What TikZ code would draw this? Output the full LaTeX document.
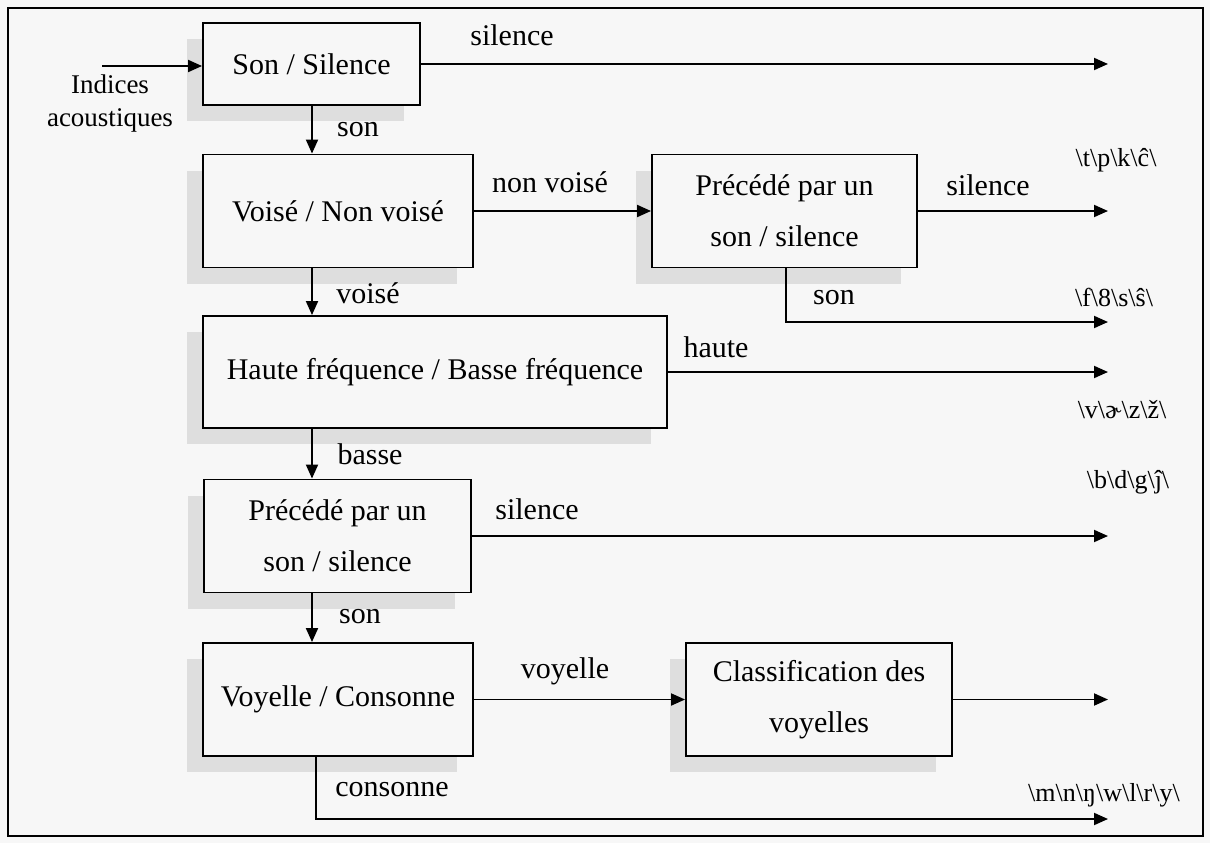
\documentclass[tikz,border=0pt]{standalone}
\usepackage{fontspec}
\setmainfont{Liberation Serif}
\usetikzlibrary{arrows.meta,shadows}

\colorlet{fond}{black!3}

\begin{document}
\begin{tikzpicture}[x=1pt,y=-1pt,
    bloc/.style={draw,line width=1.9pt,fill=fond,minimum height=113pt,align=center,
      font=\fontsize{30}{51}\selectfont,
      drop shadow={shadow xshift=-16pt,shadow yshift=-16pt,fill=black!13,opacity=1}},
    lab/.style={font=\fontsize{30}{34}\selectfont,inner sep=0pt},
    phon/.style={font=\fontsize{26}{30}\selectfont,inner sep=0pt},
    fl/.style={line width=1.9pt,-{Triangle[length=14pt,width=12pt]}}]
                % fond et cadre
                \fill[fond] (0,0) rectangle (1210,843);
                \draw[line width=1.6pt] (8,8) rectangle (1203,836);
                % blocs
                \node[bloc,minimum width=217pt,minimum height=82pt] (sonsil) at (311.5,64) {Son / Silence};
                \node[bloc,minimum width=270pt] (voise) at (338,211) {Voisé / Non voisé};
                \node[bloc,minimum width=265pt] (precA) at (784.5,211) {Précédé par un\\son / silence};
                \node[bloc,minimum width=464pt,minimum height=112pt] (freq) at (435,372) {Haute fréquence / Basse fréquence};
                \node[bloc,minimum width=267pt] (precB) at (337.5,536) {Précédé par un\\son / silence};
                \node[bloc,minimum width=270pt] (voycons) at (338,699.5) {Voyelle / Consonne};
                \node[bloc,minimum width=266pt] (classif) at (819,699.5) {Classification des\\voyelles};
                % reperes
                \coordinate (entree) at (102,66);
                \coordinate (fin) at (1108,0);
                \coordinate (axe) at (312,0);
                \coordinate (coinA) at (786,322);
                \coordinate (coinB) at (316,819);
                % fleches
                \draw[fl] (entree) -- (entree -| sonsil.west);
                \draw[fl] (sonsil.east) -- (sonsil.east -| fin);
                \draw[fl] (sonsil.south -| axe) -- (voise.north -| axe);
                \draw[fl] (voise.east) -- (precA.west);
                \draw[fl] (precA.east) -- (precA.east -| fin);
                \draw[fl] (precA.south -| coinA) -- (coinA) -- (coinA -| fin);
                \draw[fl] (voise.south -| axe) -- (freq.north -| axe);
                \draw[fl] (freq.east) -- (freq.east -| fin);
                \draw[fl] (freq.south -| axe) -- (precB.north -| axe);
                \draw[fl] (precB.east) -- (precB.east -| fin);
                \draw[fl] (precB.south -| axe) -- (voycons.north -| axe);
                \draw[fl] (voycons.east) -- (classif.west);
                \draw[fl] (classif.east) -- (classif.east -| fin);
                \draw[fl] (voycons.south -| coinB) -- (coinB) -- (coinB -| fin);
                % etiquettes
                \node[align=center,inner sep=0pt,font=\fontsize{27}{33}\selectfont] (indices) at (110,104) {Indices\\acoustiques};
                \node[lab] (lsil1) at (512,35) {silence};
                \node[lab] (lson1) at (358,130) {son};
                \node[lab] (lnv) at (550,182) {non voisé};
                \node[lab] (lsil2) at (988,185) {silence};
                \node[lab] (lson2) at (834,298) {son};
                \node[lab] (lvoi) at (368,293) {voisé};
                \node[lab] (lhaut) at (716,347) {haute};
                \node[lab] (lbas) at (370,454) {basse};
                \node[lab] (lsil3) at (537,509) {silence};
                \node[lab] (lson3) at (360,617) {son};
                \node[lab] (lvoy) at (565,671) {voyelle};
                \node[lab] (lcons) at (392,790) {consonne};
                % phonemes
                \node[phon] (ph1) at (1116,160) {\textbackslash t\textbackslash p\textbackslash k\textbackslash ĉ\textbackslash};
                \node[phon] (ph2) at (1114,297) {\textbackslash f\textbackslash 8\textbackslash s\textbackslash ŝ\textbackslash};
                \node[phon] (ph3) at (1122,410) {\textbackslash v\textbackslash ɚ\textbackslash z\textbackslash ž\textbackslash};
                \node[phon] (ph4) at (1128,482) {\textbackslash b\textbackslash d\textbackslash g\textbackslash ĵ\textbackslash};
                \node[phon] (ph5) at (1104,795) {\textbackslash m\textbackslash n\textbackslash ŋ\textbackslash w\textbackslash l\textbackslash r\textbackslash y\textbackslash};
            \end{tikzpicture}
\end{document}
